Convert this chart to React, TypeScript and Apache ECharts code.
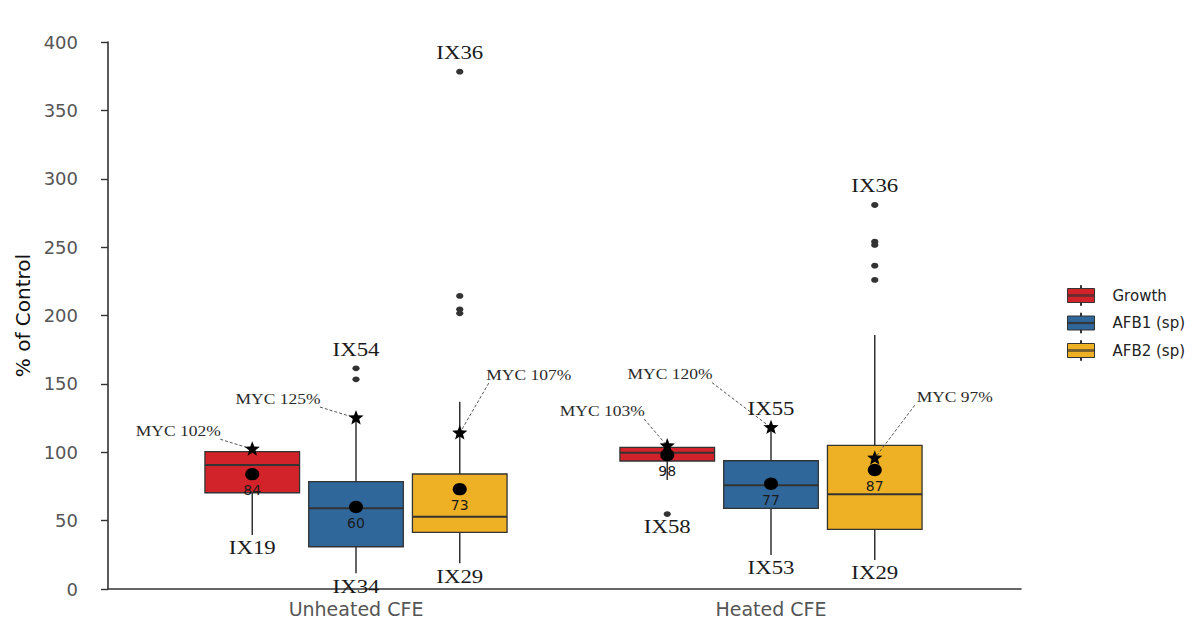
import React, { useEffect, useRef } from 'react';
import * as echarts from 'echarts';

// ---------- data ----------
const categories = ['Unheated CFE', 'Heated CFE'];
const groupNames = ['Growth', 'AFB1 (sp)', 'AFB2 (sp)'];
const yMin = 0;
const yMax = 400;
const yStep = 50;

// box statistics per category: [min, q1, median, q3, max]
const growthBox = [
  [39.5, 70.4, 90.7, 100.4, 101],
  [79.7, 93.6, 99.7, 103.6, 104.5],
];
const afb1Box = [
  [11.5, 30.9, 59, 78.5, 124.8],
  [24.9, 59, 75.8, 93.8, 118],
];
const afb2Box = [
  [18.8, 41.4, 52.9, 84.1, 137],
  [21.2, 43.6, 69.2, 105, 185.7],
];

// outliers per category
const growthOutliers = [[], [54.8]];
const afb1Outliers = [[161.4, 153.3], []];
const afb2Outliers = [
  [378.3, 214.3, 204.5, 201.6],
  [280.8, 254, 251.6, 236.4, 226],
];

// means per category
const growthMeans = [84, 98];
const afb1Means = [60, 77];
const afb2Means = [73, 87];

// MYC reference (star) per category
const growthMyc = [102.2, 104.5];
const afb1Myc = [125, 118];
const afb2Myc = [114, 95.6];
const growthMycText = ['MYC 102%', 'MYC 103%'];
const afb1MycText = ['MYC 125%', 'MYC 120%'];
const afb2MycText = ['MYC 107%', 'MYC 97%'];

// isolate labels: [category, group, anchor value]
const idLabelCats = [0, 0, 0, 0, 0, 1, 1, 1, 1, 1];
const idLabelGroups = [0, 1, 1, 2, 2, 0, 1, 1, 2, 2];
const idLabelValues = [39.5, 161.4, 11.5, 378.3, 18.8, 54.8, 118, 24.9, 280.8, 21.2];
const idLabelTexts = ['IX19', 'IX54', 'IX34', 'IX36', 'IX29', 'IX58', 'IX55', 'IX53', 'IX36', 'IX29'];
const idLabelAbove = [false, true, false, true, false, false, true, false, true, false];

// ---------- styles / layout ----------
const groupColors = ['#D3232A', '#30679B', '#EEB025'];
const DODGE = 0.25;
const BOX_W = 0.228;
const INK = '#333333';
const SANS = 'DejaVu Sans';
const SERIF = 'Liberation Serif';
// offsets (px) of each MYC label centre relative to its star, order: cat0 g0,g1,g2, cat1 g0,g1,g2
const mycLabelOffsets = [
  [-74, -18], [-78, -19], [69, -58],
  [-65, -35], [-101, -53], [80, -61],
];
const LEGEND_ICON =
  'path://M0,3L27,3L27,17L0,17Z M0,9.4L27,9.4L27,10.6L0,10.6Z M13,0L14,0L14,3L13,3Z M13,17L14,17L14,20L13,20Z';

const boxes = [growthBox, afb1Box, afb2Box];
const outliers = [growthOutliers, afb1Outliers, afb2Outliers];
const means = [growthMeans, afb1Means, afb2Means];
const mycs = [growthMyc, afb1Myc, afb2Myc];
const mycTexts = [growthMycText, afb1MycText, afb2MycText];

function groupX(api: any, cat: number, gi: number) {
  const bw = api.size([1, 0])[0];
  return api.coord([cat, 0])[0] + (gi - 1) * bw * DODGE;
}

function starPoints(cx: number, cy: number, R: number, r: number) {
  const pts: number[][] = [];
  for (let i = 0; i < 10; i++) {
    const rad = i % 2 === 0 ? R : r;
    const a = -Math.PI / 2 + (i * Math.PI) / 5;
    pts.push([cx + rad * Math.cos(a), cy + rad * Math.sin(a)]);
  }
  return pts;
}

export default function App() {
  const ref = useRef<HTMLDivElement>(null);

  useEffect(() => {
    if (!ref.current) return;
    const chart = echarts.init(ref.current, undefined, { renderer: 'svg' });

    const boxSeries = groupNames.map((name, gi) => ({
      type: 'custom',
      name,
      xAxisIndex: 0,
      yAxisIndex: 0,
      z: 2,
      itemStyle: { color: groupColors[gi] },
      encode: { x: 0, y: [1, 2, 3, 4, 5] },
      data: boxes[gi].map((s, ci) => [ci, ...s]),
      renderItem: (params: any, api: any) => {
        const cat = api.value(0);
        const bw = api.size([1, 0])[0];
        const cx = groupX(api, cat, gi);
        const half = (bw * BOX_W) / 2;
        const y = (v: number) => api.coord([cat, v])[1];
        const yLo = y(api.value(1));
        const yQ1 = y(api.value(2));
        const yMed = y(api.value(3));
        const yQ3 = y(api.value(4));
        const yHi = y(api.value(5));
        return {
          type: 'group',
          children: [
            { type: 'line', shape: { x1: cx, y1: yQ3, x2: cx, y2: yHi }, style: { stroke: INK, lineWidth: 1.5 } },
            { type: 'line', shape: { x1: cx, y1: yQ1, x2: cx, y2: yLo }, style: { stroke: INK, lineWidth: 1.5 } },
            {
              type: 'rect',
              shape: { x: cx - half, y: yQ3, width: half * 2, height: yQ1 - yQ3 },
              style: { fill: groupColors[gi], stroke: INK, lineWidth: 1.3 },
            },
            { type: 'line', shape: { x1: cx - half, y1: yMed, x2: cx + half, y2: yMed }, style: { stroke: INK, lineWidth: 2 } },
          ],
        };
      },
    }));

    const outlierData: number[][] = [];
    outliers.forEach((perCat, gi) => perCat.forEach((vals, ci) => vals.forEach((v) => outlierData.push([ci, gi, v]))));
    const meanData: number[][] = [];
    means.forEach((vals, gi) => vals.forEach((v, ci) => meanData.push([ci, gi, v])));
    const mycData: number[][] = [];
    const mycTextList: string[] = [];
    for (let ci = 0; ci < categories.length; ci++) {
      for (let gi = 0; gi < groupNames.length; gi++) {
        mycData.push([ci, gi, mycs[gi][ci]]);
        mycTextList.push(mycTexts[gi][ci]);
      }
    }
    const idData = idLabelValues.map((v, i) => [idLabelCats[i], idLabelGroups[i], v]);

    const option: any = {
      animation: false,
      backgroundColor: '#ffffff',
      grid: [
        { left: 148.5, width: 830, top: 42, height: 547 },
        { left: 108, width: 913, top: 42, height: 547 },
      ],
      xAxis: [
        {
          type: 'category',
          gridIndex: 0,
          data: categories,
          axisLine: { show: false },
          axisTick: { show: false },
          axisLabel: { fontFamily: SANS, fontSize: 19, color: '#555', margin: 10 },
        },
        {
          type: 'value',
          gridIndex: 1,
          min: 0,
          max: 1,
          axisLine: { show: true, lineStyle: { color: INK, width: 1.6 } },
          axisTick: { show: false },
          axisLabel: { show: false },
          splitLine: { show: false },
        },
      ],
      yAxis: [
        { type: 'value', gridIndex: 0, min: yMin, max: yMax, interval: yStep, show: false },
        {
          type: 'value',
          gridIndex: 1,
          min: yMin,
          max: yMax,
          interval: yStep,
          name: '% of Control',
          nameLocation: 'middle',
          nameGap: 74,
          nameTextStyle: { fontFamily: SANS, fontSize: 20, color: '#111' },
          axisLine: { show: true, lineStyle: { color: INK, width: 1.6 } },
          axisTick: { show: true, length: 7, lineStyle: { color: INK, width: 1.4 } },
          axisLabel: { fontFamily: SANS, fontSize: 18, color: '#555', margin: 30 },
          splitLine: { show: false },
        },
      ],
      legend: {
        data: groupNames.map((n) => ({ name: n, icon: LEGEND_ICON })),
        orient: 'vertical',
        left: 1062,
        top: 280,
        itemWidth: 27,
        itemHeight: 20,
        itemGap: 6.5,
        selectedMode: false,
        itemStyle: { borderColor: INK, borderWidth: 1 },
        textStyle: { fontFamily: SANS, fontSize: 15, color: '#222', padding: [0, 0, 0, 13] },
      },
      series: [
        ...boxSeries,
        {
          type: 'custom',
          name: 'outliers',
          z: 3,
          encode: { x: 0, y: 2 },
          data: outlierData,
          renderItem: (params: any, api: any) => {
            const cat = api.value(0);
            const gi = api.value(1);
            const cx = groupX(api, cat, gi);
            const cy = api.coord([cat, api.value(2)])[1];
            return { type: 'ellipse', shape: { cx, cy, rx: 3.6, ry: 2.9 }, style: { fill: '#333' } };
          },
        },
        {
          type: 'custom',
          name: 'means',
          z: 4,
          encode: { x: 0, y: 2 },
          data: meanData,
          renderItem: (params: any, api: any) => {
            const cat = api.value(0);
            const gi = api.value(1);
            const v = api.value(2);
            const cx = groupX(api, cat, gi);
            const cy = api.coord([cat, v])[1];
            return {
              type: 'group',
              children: [
                { type: 'ellipse', shape: { cx, cy, rx: 7, ry: 6.2 }, style: { fill: '#000' } },
                {
                  type: 'text',
                  x: cx,
                  y: cy + 16,
                  style: {
                    text: String(Math.round(v)),
                    fill: '#1a1a1a',
                    fontFamily: SANS,
                    fontSize: 14,
                    align: 'center',
                    verticalAlign: 'middle',
                  },
                },
              ],
            };
          },
        },
        {
          type: 'custom',
          name: 'myc',
          z: 5,
          encode: { x: 0, y: 2 },
          data: mycData,
          renderItem: (params: any, api: any) => {
            const cat = api.value(0);
            const gi = api.value(1);
            const cx = groupX(api, cat, gi);
            const cy = api.coord([cat, api.value(2)])[1];
            const [dx, dy] = mycLabelOffsets[params.dataIndex];
            const tx = cx + dx;
            const ty = cy + dy;
            const lx = tx + (dx < 0 ? 42 : -40);
            const ly = ty + 8;
            return {
              type: 'group',
              children: [
                {
                  type: 'line',
                  shape: { x1: lx, y1: ly, x2: cx, y2: cy },
                  style: { stroke: '#555', lineWidth: 1, lineDash: [3, 2] },
                },
                { type: 'polygon', shape: { points: starPoints(cx, cy, 8, 3.4) }, style: { fill: '#000' } },
                {
                  type: 'text',
                  x: tx,
                  y: ty,
                  scaleX: 1.25,
                  style: {
                    text: mycTextList[params.dataIndex],
                    fill: '#2a2a2a',
                    fontFamily: SERIF,
                    fontSize: 14,
                    align: 'center',
                    verticalAlign: 'middle',
                  },
                },
              ],
            };
          },
        },
        {
          type: 'custom',
          name: 'isolates',
          z: 6,
          encode: { x: 0, y: 2 },
          data: idData,
          renderItem: (params: any, api: any) => {
            const cat = api.value(0);
            const gi = api.value(1);
            const cx = groupX(api, cat, gi);
            const cy = api.coord([cat, api.value(2)])[1];
            const above = idLabelAbove[params.dataIndex];
            return {
              type: 'text',
              x: cx,
              y: cy + (above ? -19 : 13),
              scaleX: 1.2,
              style: {
                text: idLabelTexts[params.dataIndex],
                fill: '#1a1a1a',
                fontFamily: SERIF,
                fontSize: 19,
                align: 'center',
                verticalAlign: 'middle',
              },
            };
          },
        },
      ],
    };

    chart.setOption(option);
    return () => chart.dispose();
  }, []);

  return (
    <div
      ref={ref}
      style={{ position: 'fixed', left: 0, top: 0, width: 1197, height: 621, background: '#fff' }}
    />
  );
}
